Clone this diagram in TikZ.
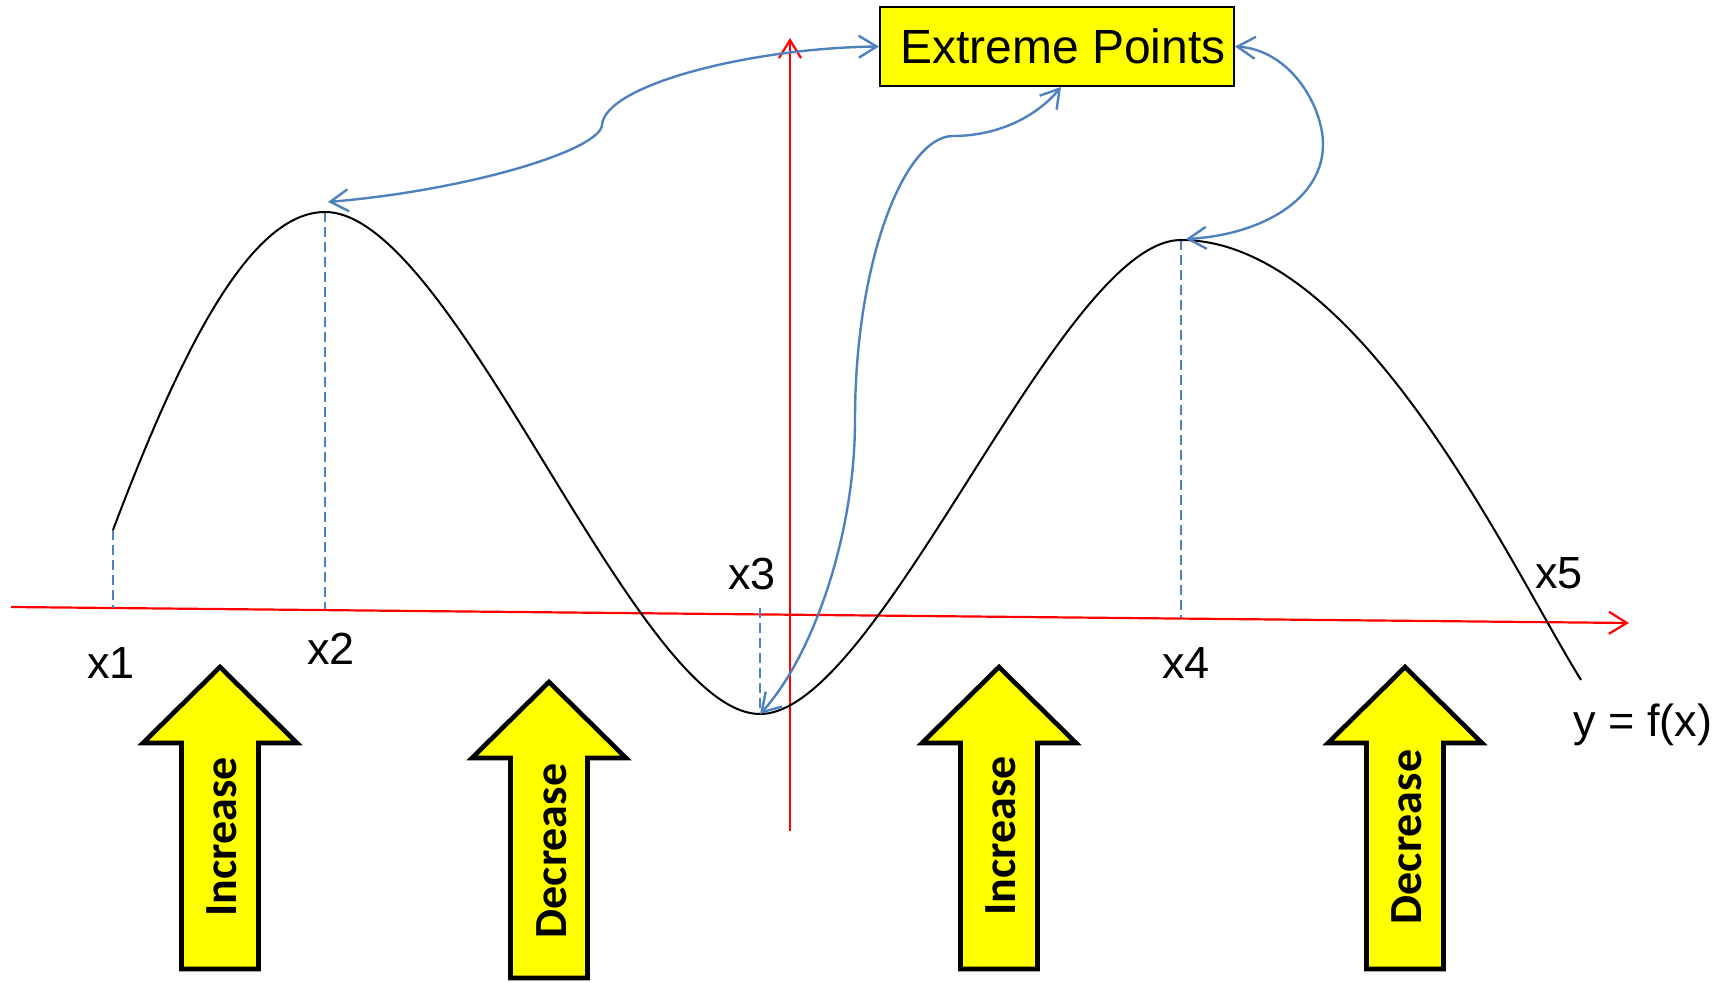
\documentclass[tikz,border=0pt]{standalone}
\usepackage{fontspec}
\setmainfont{Liberation Sans}
\newfontfamily\calib{Carlito}
\usetikzlibrary{arrows.meta}
\definecolor{axred}{RGB}{255,0,0}
\definecolor{linkblue}{RGB}{79,129,189}
\definecolor{boxyellow}{RGB}{255,255,0}
\newcommand\blockarrow[4]{%
  \draw[barrow] ({#1},{#2}) -- ({#1+77},{#3}) -- ({#1+38.5},{#3}) -- ({#1+38.5},{#4})
     -- ({#1-38.5},{#4}) -- ({#1-38.5},{#3}) -- ({#1-77},{#3}) -- cycle;}
\begin{document}
\begin{tikzpicture}[x=0.5pt,y=-0.5pt,
  lbl/.style={font=\fontsize{22.5}{27}\selectfont, inner sep=0pt},
  axisline/.style={draw=axred, line width=1.1pt, -{Straight Barb[length=9pt,width=11pt]}},
  link/.style={draw=linkblue, line width=1.2pt,
     {Straight Barb[length=9pt,width=11pt]}-{Straight Barb[length=9pt,width=11pt]}},
  drop/.style={draw=linkblue, line width=0.9pt, dash pattern=on 5pt off 2.5pt},
  fcurve/.style={draw=black, line width=1pt},
  barrow/.style={fill=boxyellow, draw=black, line width=2.3pt, line join=miter},
  btext/.style={font=\calib\bfseries\fontsize{23}{27}\selectfont, rotate=90, inner sep=0pt},
  epbox/.style={draw=black, fill=boxyellow, line width=1pt, minimum width=177pt,
     minimum height=39.5pt, inner sep=0pt, font=\fontsize{24}{28}\selectfont},
]
\useasboundingbox (0,0) rectangle (1722,983);

% key points
\coordinate (axL) at (11,607);
\coordinate (axR) at (1629,623);
\coordinate (ayB) at (790,831);
\coordinate (ayT) at (790,38);
\coordinate (p1) at (113,530);
\coordinate (max1) at (325,212);
\coordinate (max1tip) at (328,202);
\coordinate (min) at (760,714);
\coordinate (max2) at (1181,240);
\coordinate (max2tip) at (1186,239);
\coordinate (pend) at (1581,680);
\coordinate (f1) at (113,608);
\coordinate (f2) at (325,609);
\coordinate (f3) at (760,608);
\coordinate (f4) at (1181,618);

% axes
\draw[axisline] (axL) -- (axR);
\draw[axisline] (ayB) -- (ayT);

% dashed drops
\draw[drop] (p1) -- (f1);
\draw[drop] (max1) -- (f2);
\draw[drop] (f3) -- (min);
\draw[drop] (max2) -- (f4);

% function curve
\draw[fcurve] (p1) .. controls (181,350) and (250,212) .. (max1)
  .. controls (455,212) and (635,714) .. (min)
  .. controls (880,714) and (1060,240) .. (max2)
  .. controls (1360,240) and (1509,564) .. (pend);

% Extreme points box
\node[epbox] (ep) at (1057,46.5) {\hspace*{6pt}Extreme Points};

% links
\draw[link] (max1tip) .. controls (470,190) and (600,150) .. (602,125)
  .. controls (605,85) and (750,48) .. (ep.west);
\draw[link] (min) .. controls (810,660) and (855,540) .. (855,420)
  .. controls (855,260) and (905,136) .. (953,136)
  .. controls (1000,136) and (1038,115) .. ([xshift=2pt]ep.south);
\draw[link] (ep.east) .. controls (1290,50) and (1322,105) .. (1323,143)
  .. controls (1324,200) and (1260,235) .. (max2tip);

% labels
\node[lbl] (lx1) at (111,663) {x1};
\node[lbl] (lx2) at (331,649) {x2};
\node[lbl] (lx3) at (752,574) {x3};
\node[lbl] (lx4) at (1186,663) {x4};
\node[lbl] (lx5) at (1559,573) {x5};
\node[lbl] (lfx) at (1643,725) {y = f(x)};

% block arrows
\blockarrow{220}{667}{743}{969}
\blockarrow{549}{682}{758}{978}
\blockarrow{999}{667}{743}{969}
\blockarrow{1405}{667}{743}{969}
\node[btext] (t1) at (222,837) {Increase};
\node[btext] (t2) at (552,851) {Decrease};
\node[btext] (t3) at (1001,836) {Increase};
\node[btext] (t4) at (1407,837) {Decrease};
\end{tikzpicture}
\end{document}
